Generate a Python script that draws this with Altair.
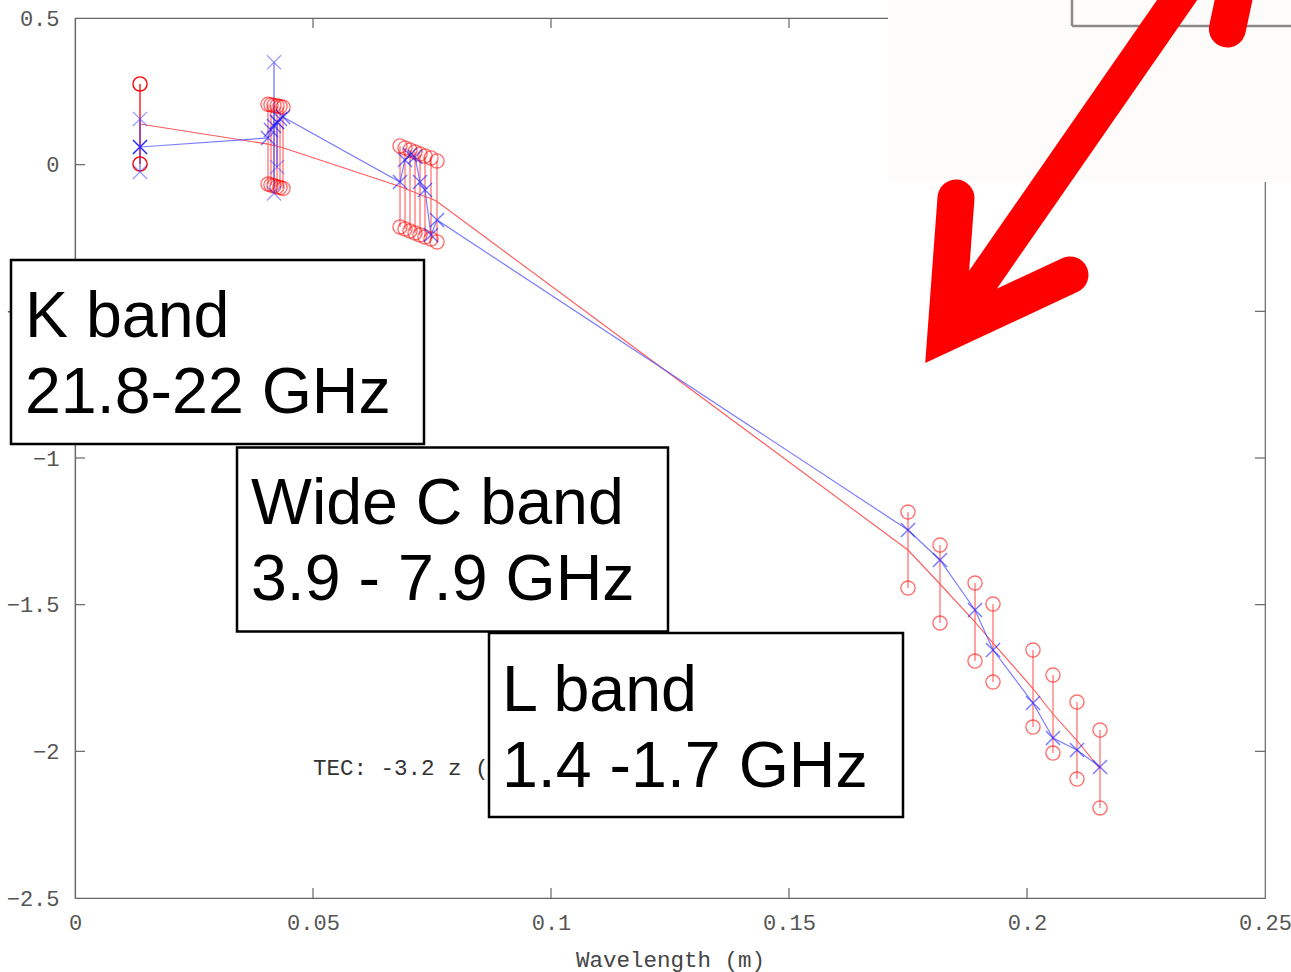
import altair as alt
import pandas as pd

# ---------------- data ----------------
# red measurements: one error bar (circle ends) per channel
red_x = [0.01366,
         0.04055, 0.04118, 0.04181, 0.04244, 0.04307, 0.04370,
         0.06828, 0.06933, 0.07038, 0.07143, 0.07248, 0.07353, 0.07479, 0.07605,
         0.17500, 0.18172, 0.18908, 0.19286, 0.20126, 0.20546, 0.21050, 0.21534]
red_hi = [0.2751,
          0.206, 0.204, 0.202, 0.200, 0.198, 0.196,
          0.0638, 0.0569, 0.0501, 0.0433, 0.0365, 0.0297, 0.0228, 0.0126,
          -1.1841, -1.2966, -1.4262, -1.4978, -1.6546, -1.7398, -1.8319, -1.9273]
red_lo = [0.0024,
          -0.066, -0.069, -0.072, -0.075, -0.078, -0.081,
          -0.2124, -0.2192, -0.2260, -0.2329, -0.2397, -0.2465, -0.2533, -0.2636,
          -1.4432, -1.5625, -1.6921, -1.7637, -1.9171, -2.0057, -2.0944, -2.1931]
# blue series (x markers joined by a line), same channels
blue_y = [0.0603,
          0.0910, 0.1183, 0.1319, 0.1456, 0.1558, 0.1626,
          -0.0590, 0.0160, 0.0331, 0.0262, -0.0590, -0.0863, -0.2397, -0.1885,
          -1.2454, -1.3477, -1.5181, -1.6545, -1.8352, -1.9545, -1.9954, -2.0534]
# blue error bars (x-marker ends)
blue_err_x = [0.01366, 0.04181, 0.04244]
blue_err_lo = [-0.0249, -0.0979, -0.0078]
blue_err_hi = [0.1558, 0.3491, 0.1456]

x_ticks = [0, 0.05, 0.1, 0.15, 0.2, 0.25]
y_ticks = [-2.5, -2, -1.5, -1, -0.5, 0, 0.5]
x_inner_ticks = [0.05, 0.1, 0.15, 0.2]
y_inner_ticks = [-2, -1.5, -1, -0.5, 0]

# annotation boxes
box_x1 = [-0.013445, 0.034034, 0.086975]
box_x2 = [0.073319, 0.124580, 0.173950]
box_y1 = [-0.3249, -0.9646, -1.5966]
box_y2 = [-0.9522, -1.5919, -2.2239]
box_text = ["K band", "21.8-22 GHz", "Wide C band", "3.9 - 7.9 GHz", "L band", "1.4 -1.7 GHz"]
box_text_x = [-0.010504, -0.010504, 0.036975, 0.036975, 0.089706, 0.089706]
box_text_y = [-0.5874, -0.8465, -1.2249, -1.4840, -1.8624, -2.1215]

tec_label = ["TEC: -3.2 z ("]
tec_x = [0.05]
tec_y = [-2.0567]

# red arrow (stroke paths) and the pasted pieces in the top-right corner
arrow_seg = ["shaft", "shaft", "head", "head", "head", "top", "top"]
arrow_x = [0.235924, 0.182983, 0.185084, 0.182983, 0.209034, 0.244748, 0.242101]
arrow_y = [0.66375, -0.57376, -0.11352, -0.57376, -0.37603, 0.66375, 0.46268]
arrow_w = [33, 33, 37, 37, 37, 37, 37]
patch_x = [0.170798]
patch_x2 = [0.2620]
patch_y = [0.6200]
patch_y2 = [-0.0590]
mini_seg = ["v", "v", "h", "h"]
mini_x = [0.209454, 0.209454, 0.209454, 0.2620]
mini_y = [0.6200, 0.4730, 0.4730, 0.4730]

# ---------------- tables ----------------
n = len(red_x)
op = [1.0] + [0.55] * (n - 1)
red_df = pd.DataFrame({"x": red_x, "lo": red_lo, "hi": red_hi,
                       "mid": [(a + b) / 2 for a, b in zip(red_lo, red_hi)], "op": op})
circ_df = pd.DataFrame({"x": red_x + red_x, "y": red_hi + red_lo, "op": op + op})
blue_df = pd.DataFrame({"x": red_x, "y": blue_y, "op": [1.0] + [0.6] * (n - 1)})
berr_df = pd.DataFrame({"x": blue_err_x, "lo": blue_err_lo, "hi": blue_err_hi})
bend_df = pd.DataFrame({"x": blue_err_x + blue_err_x, "y": blue_err_lo + blue_err_hi})
box_df = pd.DataFrame({"x": box_x1, "x2": box_x2, "y": box_y1, "y2": box_y2})
btxt_df = pd.DataFrame({"x": box_text_x, "y": box_text_y, "t": box_text})
tec_df = pd.DataFrame({"x": tec_x, "y": tec_y, "t": tec_label})
arrow_df = pd.DataFrame({"x": arrow_x, "y": arrow_y, "seg": arrow_seg, "w": arrow_w,
                         "o": list(range(len(arrow_x)))})
patch_df = pd.DataFrame({"x": patch_x, "x2": patch_x2, "y": patch_y, "y2": patch_y2})
mini_df = pd.DataFrame({"x": mini_x, "y": mini_y, "seg": mini_seg, "o": list(range(4))})
xt_df = pd.DataFrame({"v": x_inner_ticks})
yt_df = pd.DataFrame({"v": y_inner_ticks})

xs = alt.Scale(domain=[0, 0.25], nice=False, zero=False)
ys = alt.Scale(domain=[-2.5, 0.5], nice=False, zero=False)
MONO = "Liberation Mono"
AX = "#666666"

x_axis = alt.Axis(values=x_ticks, format="~g", ticks=False, grid=False, labelFlush=False,
                  domainColor=AX, domainWidth=1.2,
                  labelFont=MONO, labelFontSize=22, labelColor="#555555", labelPadding=14,
                  title="Wavelength (m)", titleFont=MONO, titleFontSize=22.5,
                  titleFontWeight="normal", titleColor="#444444", titlePadding=15)
y_axis = alt.Axis(values=y_ticks, format="~g", ticks=False, grid=False, labelFlush=False,
                  domainColor=AX, domainWidth=1.2,
                  labelFont=MONO, labelFontSize=22, labelColor="#555555", labelPadding=16,
                  title=None)


def X(f):
    return alt.X(f, type="quantitative", scale=xs, axis=x_axis)


def Y(f):
    return alt.Y(f, type="quantitative", scale=ys, axis=y_axis)


# inward ticks on all four sides
tick_bottom = alt.Chart(xt_df).mark_rule(color=AX, strokeWidth=1.2).encode(
    x=X("v:Q"), y=alt.value(880), y2=alt.value(870))
tick_top = alt.Chart(xt_df).mark_rule(color=AX, strokeWidth=1.2).encode(
    x=X("v:Q"), y=alt.value(0), y2=alt.value(10))
tick_left = alt.Chart(yt_df).mark_rule(color=AX, strokeWidth=1.2).encode(
    y=Y("v:Q"), x=alt.value(0), x2=alt.value(10))
tick_right = alt.Chart(yt_df).mark_rule(color=AX, strokeWidth=1.2).encode(
    y=Y("v:Q"), x=alt.value(1190), x2=alt.value(1180))

red_bars = alt.Chart(red_df).mark_rule(color="#ff0000", strokeWidth=1.3).encode(
    x=X("x:Q"), y=Y("lo:Q"), y2="hi:Q",
    opacity=alt.Opacity("op:Q", scale=None))
red_line = alt.Chart(red_df).mark_line(color="#ff5a5a", strokeWidth=1.1).encode(
    x=X("x:Q"), y=Y("mid:Q"))
red_circ = alt.Chart(circ_df).mark_point(shape="circle", filled=False, color="#ff0000",
                                         size=200, strokeWidth=1.4).encode(
    x=X("x:Q"), y=Y("y:Q"), opacity=alt.Opacity("op:Q", scale=None))

xshape = "M-1,-1L1,1M-1,1L1,-1"
blue_bars = alt.Chart(berr_df).mark_rule(color="#3a3aff", strokeWidth=1.3, opacity=0.7).encode(
    x=X("x:Q"), y=Y("lo:Q"), y2="hi:Q")
blue_ends = alt.Chart(bend_df).mark_point(shape=xshape, filled=False, color="#3a3aff",
                                          size=200, strokeWidth=1.3, opacity=0.5).encode(
    x=X("x:Q"), y=Y("y:Q"))
blue_line = alt.Chart(blue_df).mark_line(color="#5050ff", strokeWidth=1.2, opacity=0.75).encode(
    x=X("x:Q"), y=Y("y:Q"))
blue_pts = alt.Chart(blue_df).mark_point(shape=xshape, filled=False, color="#2020ff",
                                         size=200, strokeWidth=1.4).encode(
    x=X("x:Q"), y=Y("y:Q"), opacity=alt.Opacity("op:Q", scale=None))

tec = alt.Chart(tec_df).mark_text(font=MONO, fontSize=22.5, color="#333333",
                                  align="left", baseline="middle").encode(
    x=X("x:Q"), y=Y("y:Q"), text="t:N")

boxes = alt.Chart(box_df).mark_rect(fill="white", stroke="black", strokeWidth=2.5).encode(
    x=X("x:Q"), x2="x2:Q", y=Y("y:Q"), y2="y2:Q")
box_txt = alt.Chart(btxt_df).mark_text(font="Liberation Sans", fontSize=64.5, color="black",
                                       align="left", baseline="alphabetic").encode(
    x=X("x:Q"), y=Y("y:Q"), text="t:N")

patch = alt.Chart(patch_df).mark_rect(fill="#fdfcfb").encode(
    x=X("x:Q"), x2="x2:Q", y=Y("y:Q"), y2="y2:Q")
mini = alt.Chart(mini_df).mark_line(color="#8a8a8a", strokeWidth=2.5).encode(
    x=X("x:Q"), y=Y("y:Q"), detail="seg:N", order="o:Q")
arrow = alt.Chart(arrow_df).mark_line(color="#ff0000", strokeCap="round",
                                      strokeJoin="miter", strokeMiterLimit=6).encode(
    x=X("x:Q"), y=Y("y:Q"), detail="seg:N", order="o:Q",
    strokeWidth=alt.StrokeWidth("w:Q", scale=None))

chart = alt.layer(
    tick_bottom, tick_top, tick_left, tick_right,
    red_bars, red_line, blue_bars, blue_line, red_circ, blue_ends, blue_pts,
    tec, boxes, box_txt, patch, mini, arrow,
).properties(
    width=1190, height=880,
    autosize=alt.AutoSizeParams(type="none"),
    padding={"left": 75, "top": 18, "right": 26, "bottom": 74},
    background="white",
).configure_view(stroke=AX, strokeWidth=1.2)

chart.save("out.html", embed_options={"renderer": "svg", "actions": False})
